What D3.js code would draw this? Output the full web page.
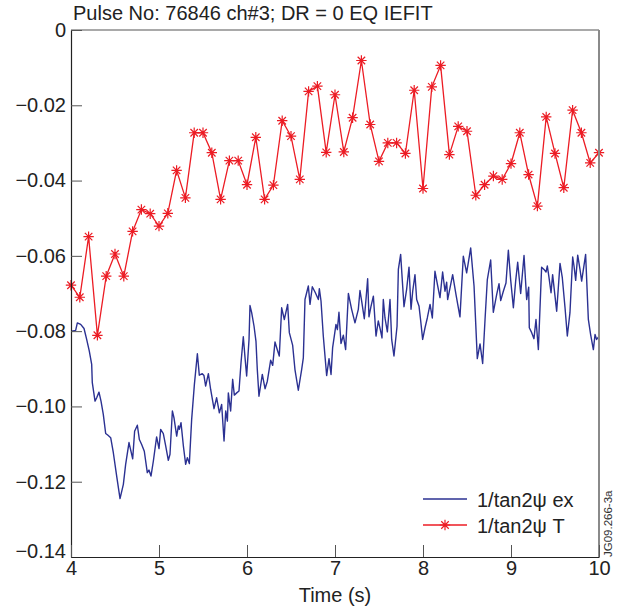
<!DOCTYPE html>
<html><head><meta charset="utf-8">
<script src="https://cdn.jsdelivr.net/npm/d3@7/dist/d3.min.js"></script>
<style>
body{margin:0;background:#fff;}
svg{display:block;font-family:"Liberation Sans",Arial,Helvetica,sans-serif;}
</style></head>
<body>
<svg id="chart" width="629" height="611"></svg>
<script>
// ---- data ----
const title = "Pulse No: 76846 ch#3; DR = 0 EQ IEFIT";
const xTicks = [4,5,6,7,8,9,10];
const yTicks = [0,-0.02,-0.04,-0.06,-0.08,-0.10,-0.12,-0.14];
const yTickLabels = ["0","\u22120.02","\u22120.04","\u22120.06","\u22120.08","\u22120.10","\u22120.12","\u22120.14"];
const seriesNames = ["1/tan2\u03c8 ex","1/tan2\u03c8 T"];

// red series: model values every 0.1 s from 4.0 to 10.0
const tTimes = d3.range(61).map(i => 4 + i*0.1);
const tValues = [-0.0678,-0.0710,-0.0549,-0.0811,-0.0654,-0.0595,-0.0654,-0.0535,-0.0477,-0.0488,
 -0.0521,-0.0487,-0.0373,-0.0446,-0.0273,-0.0273,-0.0326,-0.0450,-0.0347,-0.0347,
 -0.0411,-0.0285,-0.0450,-0.0412,-0.0241,-0.0282,-0.0397,-0.0163,-0.0149,-0.0325,
 -0.0172,-0.0324,-0.0233,-0.0081,-0.0251,-0.0349,-0.0300,-0.0300,-0.0328,-0.0160,
 -0.0421,-0.0151,-0.0094,-0.0331,-0.0256,-0.0269,-0.0439,-0.0411,-0.0388,-0.0397,
 -0.0355,-0.0273,-0.0384,-0.0468,-0.0231,-0.0328,-0.0419,-0.0213,-0.0273,-0.0353,-0.0326];

// blue series: experimental [time, value]
const exData = [
[4.008,-0.0800],[4.053,-0.0798],[4.072,-0.0778],[4.110,-0.0782],[4.148,-0.0793],[4.178,-0.0822],
[4.208,-0.0853],[4.235,-0.0888],[4.242,-0.0937],[4.273,-0.0986],[4.292,-0.0977],[4.318,-0.0962],
[4.341,-0.0986],[4.367,-0.1021],[4.394,-0.1072],[4.417,-0.1076],[4.451,-0.1083],[4.481,-0.1123],
[4.519,-0.1185],[4.557,-0.1245],[4.595,-0.1207],[4.621,-0.1154],[4.659,-0.1096],[4.701,-0.1139],
[4.723,-0.1066],[4.754,-0.1050],[4.777,-0.1088],[4.803,-0.1101],[4.833,-0.1119],[4.867,-0.1176],
[4.886,-0.1169],[4.909,-0.1185],[4.936,-0.1145],[4.973,-0.1081],[5.000,-0.1112],[5.019,-0.1061],
[5.049,-0.1072],[5.076,-0.1105],[5.106,-0.1143],[5.125,-0.1127],[5.152,-0.1012],[5.170,-0.1030],
[5.201,-0.1079],[5.220,-0.1052],[5.231,-0.1061],[5.250,-0.1043],[5.277,-0.1105],[5.303,-0.1154],
[5.322,-0.1136],[5.345,-0.1152],[5.371,-0.1035],[5.402,-0.0942],[5.436,-0.0860],[5.458,-0.0917],
[5.492,-0.0913],[5.511,-0.0918],[5.530,-0.0946],[5.561,-0.0913],[5.587,-0.0955],[5.625,-0.1006],
[5.655,-0.0977],[5.686,-0.1017],[5.712,-0.0995],[5.739,-0.1092],[5.758,-0.1012],[5.777,-0.1039],
[5.788,-0.0964],[5.814,-0.1012],[5.837,-0.0928],[5.856,-0.0970],[5.883,-0.0964],[5.909,-0.0959],
[5.932,-0.0884],[5.958,-0.0815],[5.977,-0.0869],[5.996,-0.0919],[6.023,-0.0822],[6.034,-0.0732],
[6.053,-0.0751],[6.080,-0.0787],[6.102,-0.0827],[6.117,-0.0902],[6.136,-0.0973],[6.174,-0.0915],
[6.205,-0.0953],[6.231,-0.0933],[6.269,-0.0877],[6.292,-0.0891],[6.318,-0.0829],[6.345,-0.0850],
[6.367,-0.0866],[6.394,-0.0738],[6.424,-0.0769],[6.462,-0.0729],[6.481,-0.0804],[6.519,-0.0838],
[6.545,-0.0902],[6.583,-0.0957],[6.621,-0.0902],[6.640,-0.0871],[6.659,-0.0716],[6.697,-0.0680],
[6.716,-0.0729],[6.742,-0.0682],[6.777,-0.0698],[6.811,-0.0716],[6.822,-0.0687],[6.841,-0.0720],
[6.867,-0.0813],[6.905,-0.0918],[6.932,-0.0873],[6.955,-0.0915],[6.973,-0.0844],[6.992,-0.0813],
[7.011,-0.0782],[7.027,-0.0796],[7.045,-0.0750],[7.068,-0.0833],[7.095,-0.0811],[7.121,-0.0849],
[7.152,-0.0700],[7.189,-0.0742],[7.227,-0.0778],[7.265,-0.0742],[7.284,-0.0692],[7.303,-0.0720],
[7.333,-0.0767],[7.352,-0.0716],[7.371,-0.0661],[7.386,-0.0762],[7.409,-0.0734],[7.436,-0.0707],
[7.466,-0.0813],[7.492,-0.0773],[7.515,-0.0796],[7.534,-0.0818],[7.549,-0.0716],[7.568,-0.0765],
[7.595,-0.0802],[7.625,-0.0716],[7.644,-0.0822],[7.670,-0.0866],[7.705,-0.0787],[7.720,-0.0636],
[7.746,-0.0596],[7.784,-0.0735],[7.814,-0.0689],[7.841,-0.0630],[7.864,-0.0742],[7.883,-0.0694],
[7.909,-0.0650],[7.928,-0.0716],[7.955,-0.0734],[7.974,-0.0773],[7.996,-0.0822],[8.023,-0.0791],
[8.049,-0.0765],[8.080,-0.0729],[8.106,-0.0765],[8.136,-0.0641],[8.167,-0.0680],[8.193,-0.0711],
[8.223,-0.0643],[8.250,-0.0694],[8.269,-0.0670],[8.280,-0.0716],[8.307,-0.0685],[8.337,-0.0650],
[8.375,-0.0703],[8.420,-0.0762],[8.458,-0.0601],[8.496,-0.0645],[8.542,-0.0579],[8.580,-0.0680],
[8.617,-0.0873],[8.648,-0.0834],[8.678,-0.0886],[8.705,-0.0769],[8.731,-0.0663],[8.769,-0.0611],
[8.799,-0.0750],[8.837,-0.0703],[8.864,-0.0674],[8.883,-0.0719],[8.913,-0.0694],[8.943,-0.0672],
[8.970,-0.0585],[8.996,-0.0663],[9.027,-0.0738],[9.053,-0.0667],[9.076,-0.0617],[9.110,-0.0700],
[9.148,-0.0599],[9.178,-0.0716],[9.201,-0.0683],[9.208,-0.0791],[9.235,-0.0804],[9.261,-0.0820],
[9.284,-0.0769],[9.311,-0.0849],[9.348,-0.0630],[9.375,-0.0636],[9.398,-0.0643],[9.413,-0.0627],
[9.432,-0.0658],[9.455,-0.0698],[9.473,-0.0650],[9.500,-0.0707],[9.519,-0.0747],[9.557,-0.0620],
[9.583,-0.0658],[9.614,-0.0738],[9.640,-0.0813],[9.670,-0.0751],[9.701,-0.0603],[9.716,-0.0627],
[9.735,-0.0665],[9.758,-0.0598],[9.784,-0.0636],[9.803,-0.0667],[9.848,-0.0596],[9.879,-0.0769],
[9.905,-0.0809],[9.936,-0.0849],[9.955,-0.0809],[9.973,-0.0822],[10.000,-0.0814]];

// ---- chart ----
const svg = d3.select("#chart");
const L = 71, R = 599, T = 30, B = 557;
const x = d3.scaleLinear().domain([4,10]).range([L,R]);
const y = d3.scaleLinear().domain([-0.14,0]).range([B,T]);
const blue = "#2b3192", red = "#ec1c24";

// lines
svg.append("path").datum(exData)
  .attr("fill","none").attr("stroke",blue).attr("stroke-width",1.4).attr("stroke-linejoin","round")
  .attr("d", d3.line().x(d=>x(d[0])).y(d=>y(d[1])));

const tData = tTimes.map((t,i)=>[t,tValues[i]]);
svg.append("path").datum(tData)
  .attr("fill","none").attr("stroke",red).attr("stroke-width",1.3)
  .attr("d", d3.line().x(d=>x(d[0])).y(d=>y(d[1])));

const r = 5.2, rd = r*0.72;
const starPath = `M${-r},0L${r},0M0,${-r}L0,${r}M${-rd},${-rd}L${rd},${rd}M${-rd},${rd}L${rd},${-rd}`;
svg.append("g").selectAll("path").data(tData).join("path")
  .attr("transform", d=>`translate(${x(d[0])},${y(d[1])})`)
  .attr("d", starPath).attr("stroke",red).attr("stroke-width",1.2).attr("fill","none");

// frame
svg.append("line").attr("x1",L).attr("x2",R).attr("y1",T).attr("y2",T).attr("stroke","#555").attr("stroke-width",1.2);
svg.append("line").attr("x1",R).attr("x2",R).attr("y1",T).attr("y2",B).attr("stroke","#8a8a8a").attr("stroke-width",2);

// axes
const yAxis = d3.axisLeft(y).tickValues(yTicks).tickFormat((d,i)=>yTickLabels[i]).tickSizeInner(-11).tickSizeOuter(0).tickPadding(5);
const gy = svg.append("g").attr("transform",`translate(${L},0)`).call(yAxis);
gy.select(".domain").attr("stroke","#222").attr("stroke-width",1.2);
gy.selectAll(".tick line").attr("stroke","#555");
gy.selectAll(".tick text").attr("font-size",20).attr("fill","#222").attr("font-family","Liberation Sans, Arial, sans-serif")
  .attr("dy", (d,i)=> i===yTicks.length-1 ? "0.02em" : "0.32em");

const xAxis = d3.axisBottom(x).tickValues(xTicks).tickFormat(d3.format("d")).tickSizeInner(-12).tickSizeOuter(0).tickPadding(4);
const gx = svg.append("g").attr("transform",`translate(0,${B})`).call(xAxis);
gx.select(".domain").attr("stroke","#222").attr("stroke-width",1.2);
gx.selectAll(".tick line").attr("stroke","#555");
gx.selectAll(".tick text").attr("font-size",20).attr("fill","#222").attr("font-family","Liberation Sans, Arial, sans-serif");

// title & labels
svg.append("text").attr("x",73).attr("y",20).attr("font-size",20).attr("fill","#222").text(title);
svg.append("text").attr("x",335).attr("y",602).attr("text-anchor","middle").attr("font-size",20).attr("fill","#222").text("Time (s)");
svg.append("text").attr("transform","translate(612,557) rotate(-90)").attr("font-size",11.5).attr("fill","#333").text("JG09.266-3a");

// legend
const lg = svg.append("g");
lg.append("line").attr("x1",423).attr("x2",467).attr("y1",499).attr("y2",499).attr("stroke",blue).attr("stroke-width",1.4);
lg.append("text").attr("x",477).attr("y",507).attr("font-size",20).attr("fill","#222").text(seriesNames[0]);
lg.append("line").attr("x1",423).attr("x2",467).attr("y1",525).attr("y2",525).attr("stroke",red).attr("stroke-width",1.3);
lg.append("path").attr("transform","translate(445,525)").attr("d",starPath).attr("stroke",red).attr("stroke-width",1.2);
lg.append("text").attr("x",477).attr("y",533).attr("font-size",20).attr("fill","#222").text(seriesNames[1]);
</script>
</body></html>
